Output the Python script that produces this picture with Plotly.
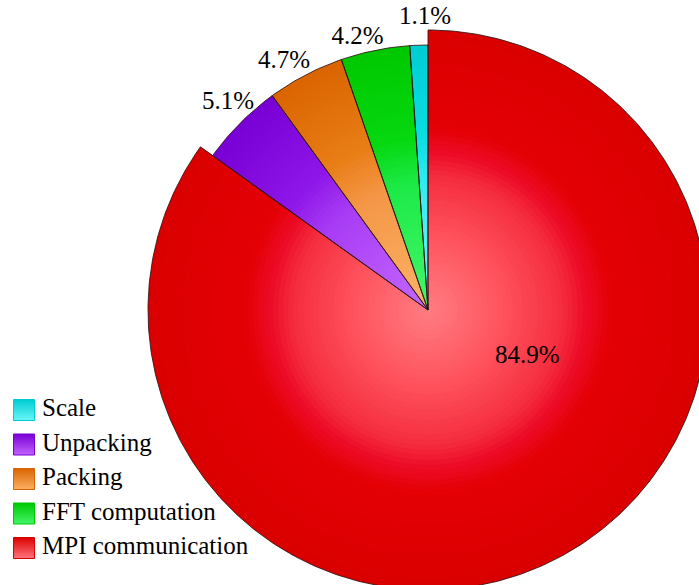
import math
import plotly.graph_objects as go

# ---------------- data ----------------
categories = ["Scale", "Unpacking", "Packing", "FFT computation", "MPI communication"]
shares = [1.1, 5.1, 4.7, 4.2, 84.9]
share_labels = ["1.1%", "5.1%", "4.7%", "4.2%", "84.9%"]
# slices are drawn clockwise from 12 o'clock in this order
pie_order = ["MPI communication", "Unpacking", "Packing", "FFT computation", "Scale"]

# ---------------- styles / positions ----------------
W, H = 699, 585
CX, CY = 428, 310          # pixel position of the pie centre
R_BIG, R_SMALL = 280, 265  # MPI slice is drawn larger
LEVELS = 56
FONT = "Times New Roman, Liberation Serif, Tinos, Nimbus Roman, DejaVu Serif, serif"
# label placement (radius px, angle deg clockwise from 12 o'clock)
label_pos = {
    "Scale": (292, -0.6),
    "FFT computation": (281, -14.5),
    "Packing": (287, -30.1),
    "Unpacking": (288, -44.0),
    "MPI communication": (110, 115.4),
}

grad = {
    "MPI communication": [(0.0, (255, 124, 130)), (0.25, (255, 86, 96)), (0.48, (245, 45, 62)),
                          (0.56, (236, 12, 40)), (0.65, (228, 0, 5)), (1.0, (218, 0, 0))],
    "Unpacking": [(0.0, (196, 104, 255)), (0.48, (168, 60, 245)), (0.65, (142, 22, 232)), (1.0, (120, 0, 212))],
    "Packing": [(0.0, (253, 178, 104)), (0.48, (244, 150, 70)), (0.65, (233, 126, 22)), (1.0, (218, 100, 0))],
    "FFT computation": [(0.0, (70, 246, 110)), (0.48, (28, 234, 70)), (0.65, (6, 216, 16)), (1.0, (0, 200, 0))],
    "Scale": [(0.0, (110, 246, 250)), (0.48, (50, 236, 240)), (0.65, (10, 222, 226)), (1.0, (0, 205, 210))],
}
OUTLINE = "rgba(45,20,20,0.85)"


def col(name, t):
    stops = grad[name]
    for (t0, c0), (t1, c1) in zip(stops[:-1], stops[1:]):
        if t <= t1:
            f = (t - t0) / (t1 - t0)
            c = [round(a + (b - a) * f) for a, b in zip(c0, c1)]
            return "rgb(%d,%d,%d)" % tuple(c)
    return "rgb(%d,%d,%d)" % stops[-1][1]


def wedge(r, a0, a1):
    n = max(2, int(math.ceil(abs(a1 - a0) / 0.8)) + 1)
    xs, ys = [0.0], [0.0]
    for i in range(n):
        a = math.radians(a0 + (a1 - a0) * i / (n - 1))
        xs.append(r * math.sin(a))
        ys.append(r * math.cos(a))
    xs.append(0.0)
    ys.append(0.0)
    return xs, ys


share_of = dict(zip(categories, shares))
label_of = dict(zip(categories, share_labels))
angles = {}
acc = 0.0
for name in pie_order:
    a0 = acc * 3.6
    acc += share_of[name]
    angles[name] = (a0, acc * 3.6)

radius = {n: (R_BIG if n == "MPI communication" else R_SMALL) for n in categories}

fig = go.Figure()

# gradient fill: nested wedges from outside in
for k in range(LEVELS, 0, -1):
    t = k / LEVELS
    for name in pie_order:
        a0, a1 = angles[name]
        xs, ys = wedge(radius[name] * t, a0, a1)
        c = col(name, t - 0.5 / LEVELS)
        fig.add_trace(go.Scatter(x=xs, y=ys, mode="lines", fill="toself", fillcolor=c,
                                 line=dict(width=0, color=c), hoverinfo="skip", showlegend=False))

# outlines (small slices first so the big slice edge is on top)
for name in reversed(pie_order):
    a0, a1 = angles[name]
    xs, ys = wedge(radius[name], a0, a1)
    fig.add_trace(go.Scatter(x=xs, y=ys, mode="lines", line=dict(width=1, color=OUTLINE),
                             hoverinfo="skip", showlegend=False))

# percentage labels
lx, ly, lt = [], [], []
for name in pie_order:
    rr, th = label_pos[name]
    lx.append(rr * math.sin(math.radians(th)))
    ly.append(rr * math.cos(math.radians(th)))
    lt.append(label_of[name])
fig.add_trace(go.Scatter(x=lx, y=ly, mode="text", text=lt, textposition="middle center",
                         textfont=dict(family=FONT, size=25, color="black"),
                         hoverinfo="skip", showlegend=False))

# legend built on its own axes (index based)
idx = list(range(len(categories)))
fig.add_trace(go.Scatter(
    x=[0] * len(categories), y=idx, xaxis="x2", yaxis="y2", mode="markers",
    marker=dict(symbol="square", size=21,
                color=[col(n, 1.0) for n in categories],
                gradient=dict(type="vertical", color=[col(n, 0.05) for n in categories]),
                line=dict(width=1, color=[col(n, 1.0) for n in categories])),
    hoverinfo="skip", showlegend=False))
fig.add_trace(go.Scatter(
    x=[18] * len(categories), y=idx, xaxis="x2", yaxis="y2", mode="text",
    text=categories, textposition="middle right",
    textfont=dict(family=FONT, size=25, color="black"),
    hoverinfo="skip", showlegend=False))

fig.update_layout(
    width=W, height=H, margin=dict(l=0, r=0, t=0, b=0),
    paper_bgcolor="white", plot_bgcolor="rgba(0,0,0,0)", showlegend=False,
    font=dict(family=FONT),
    xaxis=dict(range=[-CX, W - CX], domain=[0, 1], visible=False, fixedrange=True),
    yaxis=dict(range=[-(H - CY), CY], domain=[0, 1], visible=False, fixedrange=True),
    xaxis2=dict(range=[-24, W - 24], domain=[0, 1], anchor="y2", visible=False, fixedrange=True),
    yaxis2=dict(range=[5.072, -11.884], domain=[0, 1], anchor="x2", visible=False, fixedrange=True),
)

fig.write_html("out.html")
